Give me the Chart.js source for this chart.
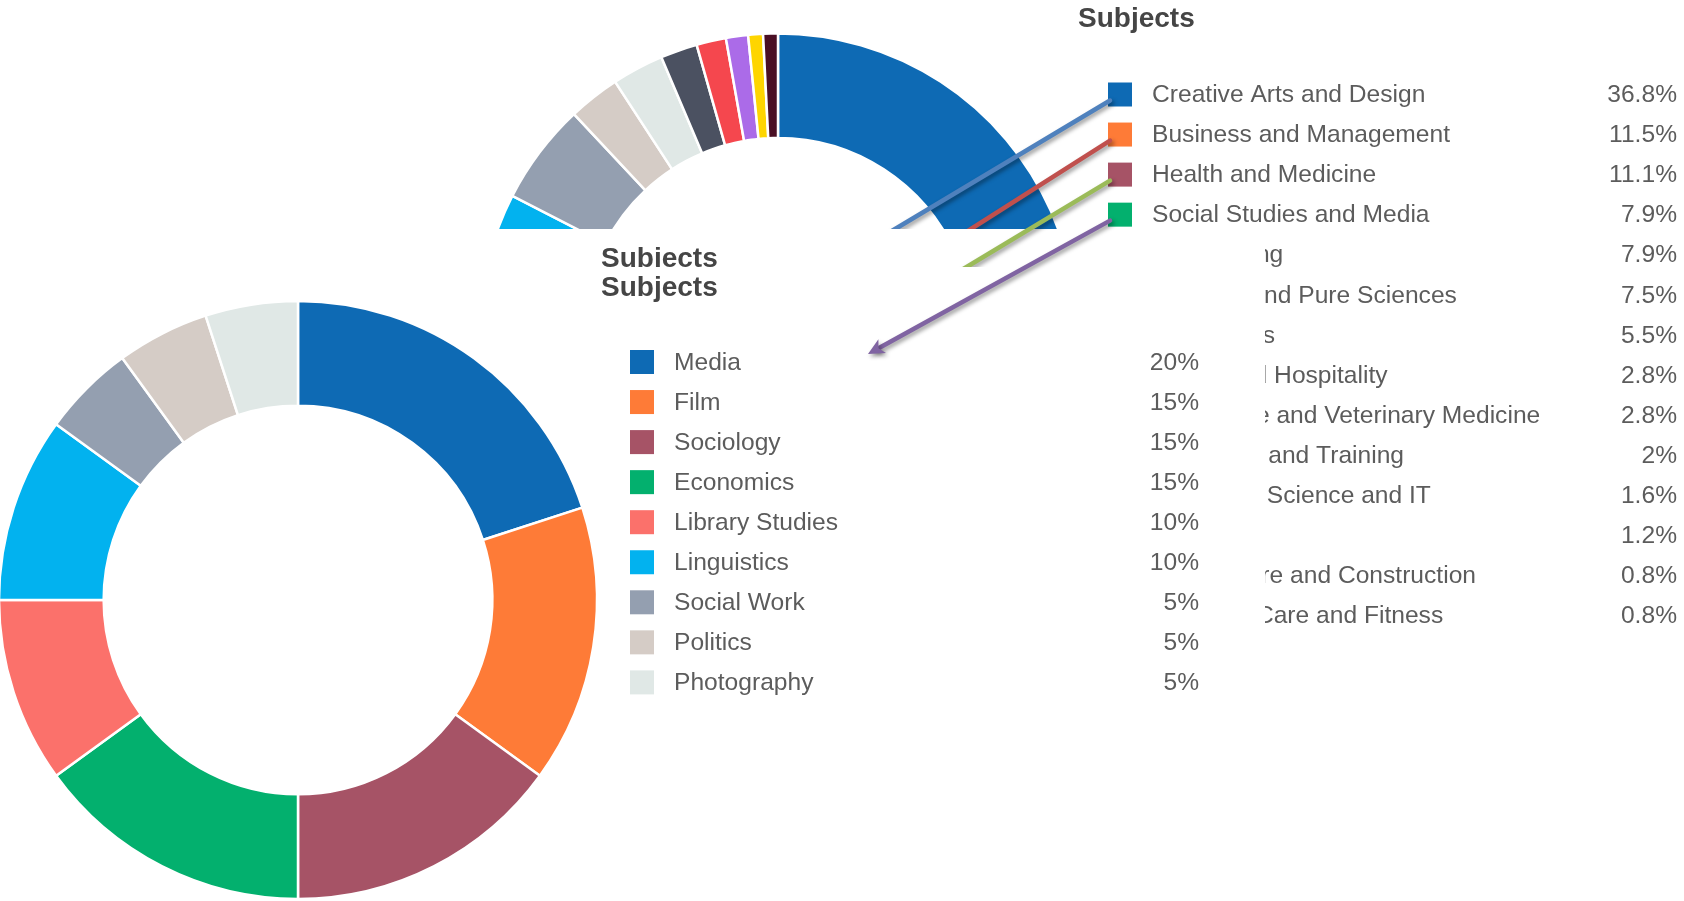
<!DOCTYPE html>
<html>
<head>
<meta charset="utf-8">
<title>Subjects</title>
<script src="https://cdn.jsdelivr.net/npm/chart.js@4"></script>
<style>
  html, body { margin: 0; padding: 0; background: #fff; }
  #wrap { position: relative; width: 1684px; height: 901px; overflow: hidden; }
  #wrap canvas { position: absolute; left: 0; top: 0; }
</style>
</head>
<body>
<div id="wrap">
  <canvas id="allChart" width="1684" height="901"></canvas>
  <canvas id="mediaChart" width="1684" height="901"></canvas>
</div>
<script>
// all subjects
const allSubjects = [
    'Creative Arts and Design', 'Business and Management', 'Health and Medicine',
    'Social Studies and Media', 'Engineering', 'Physical and Pure Sciences',
    'Humanities', 'Travel and Hospitality', 'Agriculture and Veterinary Medicine',
    'Education and Training', 'Computer Science and IT', 'Law',
    'Architecture and Construction', 'Personal Care and Fitness'
];
const allShares = [36.8, 11.5, 11.1, 7.9, 7.9, 7.5, 5.5, 2.8, 2.8, 2, 1.6, 1.2, 0.8, 0.8];

// social studies and media breakdown
const mediaSubjects = [
    'Media', 'Film', 'Sociology', 'Economics', 'Library Studies',
    'Linguistics', 'Social Work', 'Politics', 'Photography'
];
const mediaShares = [20, 15, 15, 15, 10, 10, 5, 5, 5];

const palette = [
    '#0e6ab4', '#fe7b37', '#a65366', '#03b06e', '#fb716b', '#02b2ef', '#949fb0',
    '#d5ccc6', '#e0e8e6', '#4b5161', '#f5474e', '#ab6be8', '#fed500', '#4a0f24'
];

const arrowColours = ['#4f81bd', '#c0504d', '#9bbb59', '#8064a2'];
const arrowEnds = [[860, 250], [930, 255], [955, 274], [868, 354]];

const FONT = "'Liberation Sans', Arial, sans-serif";
Chart.defaults.font.family = FONT;

const ROW_STEP = 40.05;

function legendPlugin(cfg) {
    return {
        id: 'sideLegend',
        afterDraw(chart) {
            const ctx = chart.ctx;
            const ds = chart.data.datasets[0];
            ctx.save();
            ctx.fillStyle = '#454545';
            ctx.font = 'bold 28px ' + FONT;
            ctx.textAlign = 'left';
            ctx.textBaseline = 'alphabetic';
            ctx.fillText('Subjects', cfg.titleX, cfg.titleY);

            ctx.font = '24.6px ' + FONT;
            ctx.textBaseline = 'middle';
            chart.data.labels.forEach((label, i) => {
                const y = cfg.rowY + i * ROW_STEP;
                ctx.fillStyle = ds.backgroundColor[i];
                ctx.fillRect(cfg.boxX, y - 13, 24, 24);
                ctx.fillStyle = '#5c5c5c';
                ctx.textAlign = 'left';
                ctx.fillText(label, cfg.boxX + 44, y);
                ctx.textAlign = 'right';
                ctx.fillText(ds.data[i] + '%', cfg.boxX + 569, y);
            });
            ctx.restore();
        }
    };
}

// pointer lines run from the legend boxes of the big chart
function drawArrow(ctx, i, head) {
    const from = [1110, 95.5 + i * ROW_STEP + 5];
    const to = arrowEnds[i];
    ctx.save();
    ctx.strokeStyle = arrowColours[i];
    ctx.fillStyle = arrowColours[i];
    ctx.lineWidth = 4.5;
    ctx.lineCap = 'round';
    ctx.shadowColor = 'rgba(0,0,0,0.4)';
    ctx.shadowBlur = 4;
    ctx.shadowOffsetX = 2;
    ctx.shadowOffsetY = 2.5;
    const ang = Math.atan2(to[1] - from[1], to[0] - from[0]);
    const end = head ? [to[0] - Math.cos(ang) * 10, to[1] - Math.sin(ang) * 10] : to;
    ctx.beginPath();
    ctx.moveTo(from[0], from[1]);
    ctx.lineTo(end[0], end[1]);
    ctx.stroke();
    if (head) {
        ctx.beginPath();
        ctx.moveTo(to[0], to[1]);
        ctx.lineTo(to[0] - Math.cos(ang - 0.45) * 18, to[1] - Math.sin(ang - 0.45) * 18);
        ctx.lineTo(to[0] - Math.cos(ang) * 12, to[1] - Math.sin(ang) * 12);
        ctx.lineTo(to[0] - Math.cos(ang + 0.45) * 18, to[1] - Math.sin(ang + 0.45) * 18);
        ctx.closePath();
        ctx.fill();
    }
    ctx.restore();
}

function donutOptions(padding, radius) {
    return {
        responsive: false,
        animation: false,
        events: [],
        cutout: '65%',
        radius: radius,
        layout: { padding: padding },
        plugins: { legend: { display: false }, tooltip: { enabled: false }, title: { display: false } }
    };
}

new Chart(document.getElementById('allChart'), {
    type: 'doughnut',
    data: {
        labels: allSubjects,
        datasets: [{
            data: allShares,
            backgroundColor: palette,
            borderColor: '#fff',
            borderWidth: 2.5
        }]
    },
    options: donutOptions({ left: 481, top: 35, right: 609, bottom: 272 }, 298.5),
    plugins: [
        legendPlugin({ titleX: 1078, titleY: 27, boxX: 1108, rowY: 95.5 }),
        {
            id: 'pointers',
            afterDraw(chart) {
                drawArrow(chart.ctx, 0, false);
                drawArrow(chart.ctx, 1, false);
            }
        }
    ]
});

new Chart(document.getElementById('mediaChart'), {
    type: 'doughnut',
    data: {
        labels: mediaSubjects,
        datasets: [{
            data: mediaShares,
            backgroundColor: palette.slice(0, mediaShares.length),
            borderColor: '#fff',
            borderWidth: 2.5
        }]
    },
    options: donutOptions({ left: 1, top: 303, right: 1089, bottom: 4 }, 299),
    plugins: [
        {
            id: 'panels',
            beforeDraw(chart) {
                const ctx = chart.ctx;
                ctx.save();
                ctx.fillStyle = '#fff';
                ctx.fillRect(0, 229, 1265, 672);
                ctx.fillStyle = '#454545';
                ctx.font = 'bold 28px ' + FONT;
                ctx.textBaseline = 'alphabetic';
                ctx.fillText('Subjects', 601, 267);
                ctx.restore();
                drawArrow(ctx, 2, false);
                ctx.save();
                ctx.fillStyle = '#fff';
                ctx.fillRect(0, 267, 1265, 634);
                ctx.restore();
            }
        },
        legendPlugin({ titleX: 601, titleY: 296, boxX: 630, rowY: 363 }),
        {
            id: 'pointer',
            afterDraw(chart) {
                drawArrow(chart.ctx, 3, true);
            }
        }
    ]
});
</script>
</body>
</html>
